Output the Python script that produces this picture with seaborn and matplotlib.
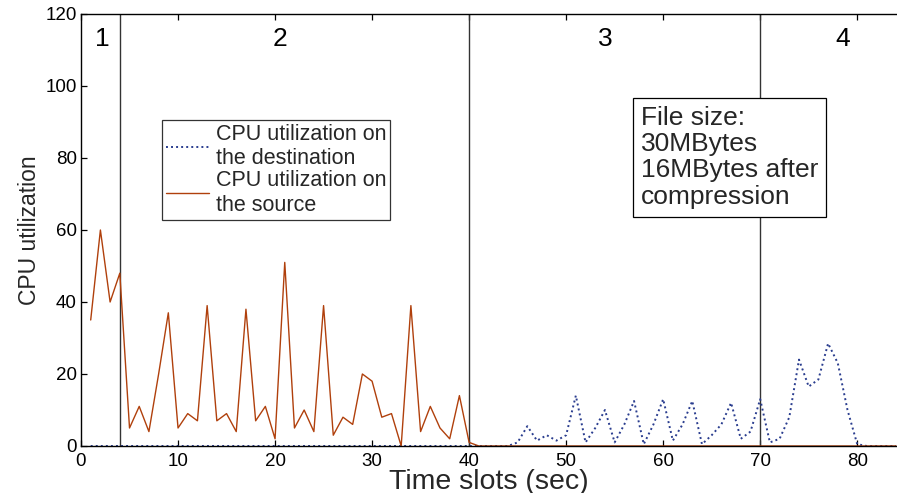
import numpy as np
import pandas as pd
import matplotlib
matplotlib.use("Agg")
import matplotlib.pyplot as plt
import seaborn as sns

# ---- data ----
time_slots = list(range(1, 85))
source_head = [35, 60, 40, 48, 5, 11, 4, 20, 37, 5,
               9, 7, 39, 7, 9, 4, 38, 7, 11, 2,
               51, 5, 10, 4, 39, 3, 8, 6, 20, 18,
               8, 9, 0, 39, 4, 11, 5, 2, 14, 1]
source_cpu = source_head + [0] * (84 - len(source_head))

dest_tail = [1, 5.5, 1.5, 3, 1.5, 3, 14, 1, 5, 10,
             1, 6, 12.5, 0.5, 6, 13, 1.5, 6, 12.5, 0.5,
             3, 6, 12, 2, 4, 13, 1, 2, 8, 24,
             16.5, 18.5, 28.5, 23, 10, 0.5]          # x = 45 .. 80
dest_cpu = [0] * 44 + dest_tail + [0] * (84 - 44 - len(dest_tail))

phase_bounds = [4, 40, 70]
phase_labels = ["1", "2", "3", "4"]
phase_label_x = [2.2, 20.5, 54, 78.5]
x_ticks = [0, 10, 20, 30, 40, 50, 60, 70, 80]
y_ticks = [0, 20, 40, 60, 80, 100, 120]

df = pd.DataFrame({"t": time_slots, "src": source_cpu, "dst": dest_cpu})

sns.set_theme(style="white")
plt.rcParams["font.family"] = ["Liberation Sans", "DejaVu Sans"]

fig = plt.figure(figsize=(8.97, 4.93), dpi=100)
ax = fig.add_axes([81 / 897, 1 - 446 / 493, 816 / 897, 432 / 493])

sns.lineplot(data=df, x="t", y="dst", ax=ax, color="#2a3d8f", linestyle=(0, (1, 1.6)),
             linewidth=1.4, label="CPU utilization on\nthe destination")
sns.lineplot(data=df, x="t", y="src", ax=ax, color="#b0400c", linewidth=1.0,
             label="CPU utilization on\nthe source")

for b in phase_bounds:
    ax.axvline(b, color="#333333", linewidth=1.0, zorder=1)
for lx, lab in zip(phase_label_x, phase_labels):
    ax.text(lx, 113, lab, ha="center", va="center", fontsize=19, color="black")

ax.text(57.7, 94.5, "File size:\n30MBytes\n16MBytes after\ncompression",
        ha="left", va="top", fontsize=19, linespacing=1.12,
        bbox=dict(boxstyle="square,pad=0.3", facecolor="white", edgecolor="black", linewidth=0.9),
        zorder=5)

ax.set_xlim(0, 84.1)
ax.set_ylim(0, 120)
ax.set_xticks(x_ticks)
ax.set_yticks(y_ticks)
ax.tick_params(direction="in", length=4, width=0.9, labelsize=13.5, top=True, right=False,
               bottom=True, left=True, colors="black")
ax.tick_params(axis="x", pad=5)
ax.tick_params(axis="y", pad=3)
ax.set_xlabel("Time slots (sec)", fontsize=20.5, labelpad=-1)
ax.set_ylabel("CPU utilization", fontsize=16.5, labelpad=3)
for s in ["left", "bottom", "top"]:
    ax.spines[s].set_color("black")
    ax.spines[s].set_linewidth(1.0)
ax.spines["right"].set_visible(False)

leg = ax.legend(loc="upper left", bbox_to_anchor=(0.099, 0.755), fontsize=15.5,
                frameon=True, fancybox=False, borderpad=0.2, labelspacing=0.05,
                handlelength=2.0, handletextpad=0.3, borderaxespad=0)
leg.get_frame().set_edgecolor("black")
leg.get_frame().set_linewidth(0.9)

fig.savefig("out.png", dpi=100)
